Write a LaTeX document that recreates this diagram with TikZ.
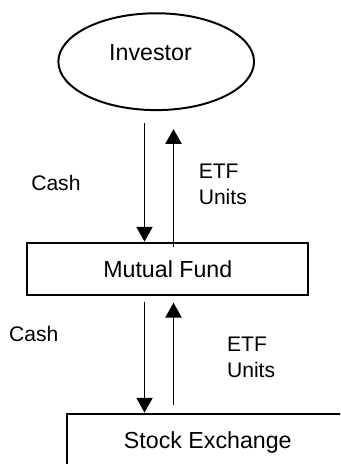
\documentclass[tikz,border=0pt]{standalone}
\usepackage{fontspec}
\setmainfont{Liberation Sans}
\usepackage{tikz}
\usetikzlibrary{arrows.meta,calc,shapes}

\tikzset{
  ovalnode/.style={draw, ellipse, line width=1.4pt, minimum width=4.89cm, minimum height=2.42cm},
  fundbox/.style={draw, rectangle, line width=1.4pt, minimum width=7.025cm, minimum height=1.31cm,
    inner sep=0pt, text depth=0pt, font=\fontsize{16.5}{20}\selectfont},
  flow/.style={line width=1.4pt, -{Triangle[length=0.37cm,width=0.4cm]}},
  lbl/.style={inner sep=0pt, anchor=west, align=left, font=\fontsize{15}{18.5}\selectfont}
}

\begin{document}
\begin{tikzpicture}[x=0.025cm,y=-0.025cm]
  \useasboundingbox (0,0) rectangle (340,464);
  \clip (0,0) rectangle (340,464);
  % the three parties
  \node[ovalnode] (investor) at (156.2,61.7) {};
  \node[inner sep=0pt, font=\fontsize{16.5}{20}\selectfont] (investortext) at (150.5,52.5) {Investor};
  \node[fundbox] (fund) at (167.8,268.8) {Mutual Fund};
  \node[fundbox] (exchange) at (207.8,439.8) {Stock Exchange};
  % arrow ends
  \coordinate (cashtop) at (144.5,123.3);
  \coordinate (etftop) at (173.5,129);
  \coordinate (cashlow) at (144.5,301.7);
  \coordinate (etfmid) at (173.5,302.7);
  \coordinate (etflow) at (173.5,405);
  \draw[flow] (cashtop) -- (cashtop |- fund.north);
  \draw[flow] ([yshift=-0.13cm]fund.north -| etftop) -- (etftop);
  \draw[flow] (cashlow) -- (cashlow |- exchange.north);
  \draw[flow] (etflow) -- (etfmid);
  % labels
  \node[lbl] (cashup) at (31,182.5) {Cash};
  \node[lbl] (unitsup) at (198.5,184) {ETF\\Units};
  \node[lbl] (cashdown) at (8.8,334.2) {Cash};
  \node[lbl] (unitsdown) at (226.8,357.8) {ETF\\Units};
\end{tikzpicture}
\end{document}
